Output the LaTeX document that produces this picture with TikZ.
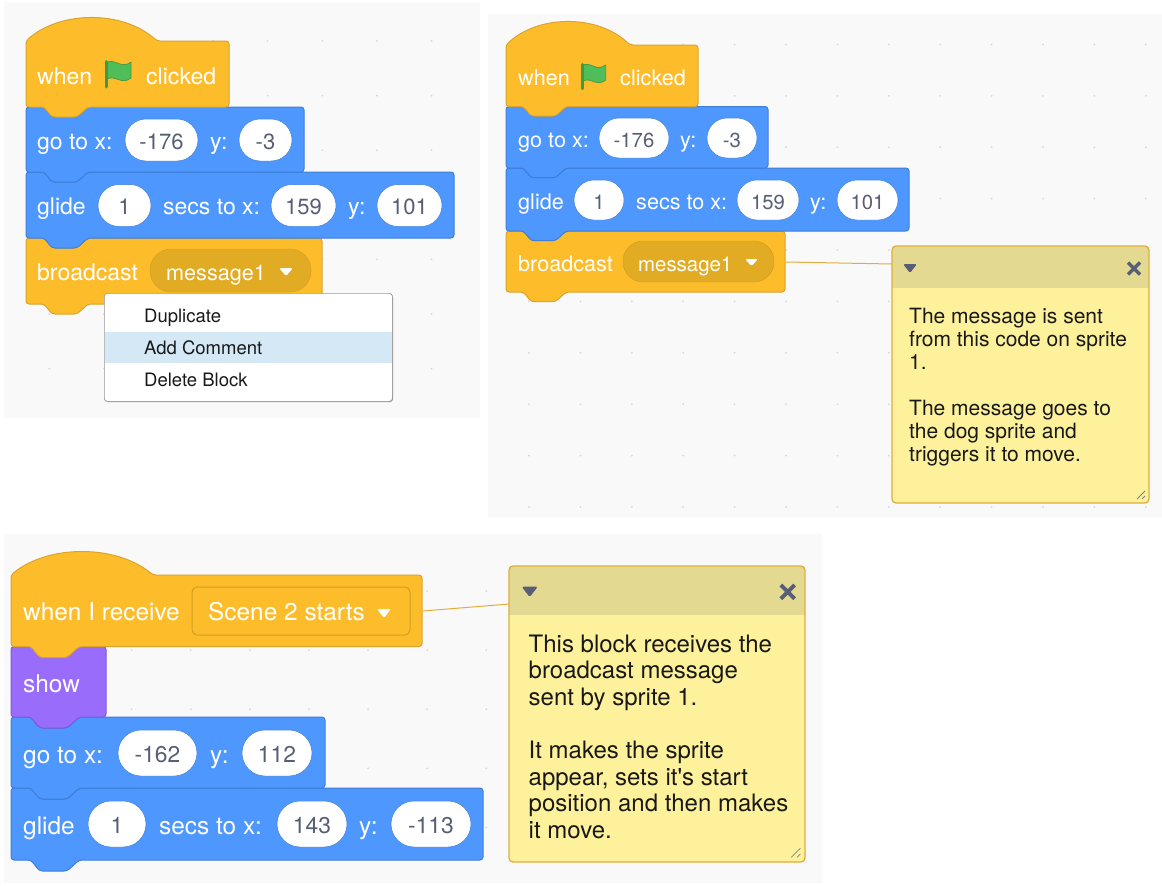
\documentclass[tikz,border=0pt]{standalone}
\usepackage{fontspec}
\setmainfont{TeX Gyre Heros}
\definecolor{panelbg}{HTML}{F9F9F9}
\definecolor{griddot}{HTML}{D8D8D8}
\definecolor{eventfill}{HTML}{FDBD2B}
\definecolor{eventedge}{HTML}{DBA32C}
\definecolor{motionfill}{HTML}{4D97FE}
\definecolor{motionedge}{HTML}{3F7FD6}
\definecolor{looksfill}{HTML}{9A6CFC}
\definecolor{looksedge}{HTML}{7F58D8}
\definecolor{dropfill}{HTML}{E2AB24}
\definecolor{dropedge}{HTML}{D19E20}
\definecolor{pilltext}{HTML}{575E75}
\definecolor{notefill}{HTML}{FEF19C}
\definecolor{notehead}{HTML}{E3D991}
\definecolor{noteedge}{HTML}{E0AE3E}
\definecolor{menuhi}{HTML}{D5E8F6}
\definecolor{flagfill}{HTML}{4FBE5A}
\definecolor{flagedge}{HTML}{45993D}
\tikzset{
  event/.style={fill=eventfill,draw=eventedge},
  motion/.style={fill=motionfill,draw=motionedge},
  looks/.style={fill=looksfill,draw=looksedge},
  blocktext/.style={text=white,anchor=base west,inner sep=0pt,yshift=-1pt},
  pill/.style={fill=white,draw=motionedge,line width=0.5pt,text=pilltext,inner sep=0pt,text height=18pt,text depth=0pt},
  note/.style={text=black!90,anchor=north west,inner sep=0pt,align=left},
  menuitem/.style={text=black!90,anchor=base west,inner sep=0pt,font=\fontsize{18.5}{20}\selectfont},
  link/.style={draw=noteedge,line width=1pt},
}
\newcommand\DrawBlock[5]{
  \draw[#5,line width=1pt,rounded corners=3pt] (#1,#2) -- ({#1+18*\NS},#2) -- ({#1+26*\NS},{#2+10*\NS}) -- ({#1+51*\NS},{#2+10*\NS}) -- ({#1+62*\NS},#2)
    -- (#3,#2) -- (#3,#4) -- ({#1+62*\NS},#4) -- ({#1+51*\NS},{#4+10*\NS}) -- ({#1+26*\NS},{#4+10*\NS}) -- ({#1+18*\NS},#4) -- (#1,#4) -- cycle;
}
\newcommand\DrawHat[5]{
  \draw[event,line width=1pt,rounded corners=3pt] (#1,#2) .. controls ({#1+0.26*(#3-#1)},{#2-30.7}) and ({#1+0.74*(#3-#1)},{#2-30.7}) .. (#3,#2)
    -- (#4,#2) -- (#4,#5) -- ({#1+62*\NS},#5) -- ({#1+51*\NS},{#5+10*\NS}) -- ({#1+26*\NS},{#5+10*\NS}) -- ({#1+18*\NS},#5) -- (#1,#5) -- cycle;
}
\newcommand\DrawPill[6]{
  \node[pill,font=\PF,rounded corners=(#4-#3)/2,minimum width=#2-#1,minimum height=#4-#3] (#5) at ({(#1+#2)/2},{(#3+#4)/2}) {#6};
}
\newcommand\DrawDrop[4]{
  \fill[white,rounded corners=1.5pt] (#1,#3) -- (#2,#3) -- ({(#1+#2)/2},#4) -- cycle;
}
\newcommand\DrawFlag[3]{
  \begin{scope}[shift={(#1,#2)},scale=#3]
    \draw[fill=flagfill,draw=flagedge,line width=0.7pt,line join=round] (1,3) .. controls (9,-3) and (16,10) .. (26,2) -- (26,18) .. controls (16,26) and (9,13) .. (1,20) -- cycle;
    \draw[flagedge,line width=3pt,line cap=round] (1.5,1.5) -- (1.5,27);
  \end{scope}
}
\newcommand\DrawComment[5]{
  \fill[notefill,rounded corners=4pt] (#1,#2) rectangle (#3,#4);
  \begin{scope}
    \clip[rounded corners=4pt] (#1,#2) rectangle (#3,#4);
    \fill[notehead] (#1,#2) rectangle (#3,#5);
  \end{scope}
  \draw[noteedge,line width=1.3pt,rounded corners=4pt] (#1,#2) rectangle (#3,#4);
  \fill[pilltext,rounded corners=1.5pt] ({#1+(18-7)*\CS},{#2+18*\CS}) -- ({#1+(18+7)*\CS},{#2+18*\CS}) -- ({#1+18*\CS},{#2+27*\CS}) -- cycle;
  \draw[pilltext,line width=3.4pt*\CS] ({#3-(15+6)*\CS},{#2+(22.5-6)*\CS}) -- ({#3-(15-6)*\CS},{#2+(22.5+6)*\CS})
    ({#3-(15+6)*\CS},{#2+(22.5+6)*\CS}) -- ({#3-(15-6)*\CS},{#2+(22.5-6)*\CS});
  \draw[gray,line width=0.8pt] ({#3-12*\CS},{#4-4*\CS}) -- ({#3-4*\CS},{#4-12*\CS}) ({#3-7*\CS},{#4-4*\CS}) -- ({#3-4*\CS},{#4-7*\CS});
}

\begin{document}
\begin{tikzpicture}[x=1pt,y=-1pt]
\useasboundingbox (0,0) rectangle (1162,886);
\fill[white] (0,0) rectangle (1162,886);
\fill[panelbg] (4,2) rectangle (480,418);
\fill[panelbg] (488,14) rectangle (1162,518);
\fill[panelbg] (4,534) rectangle (822,883);
\foreach \col in {0,...,7} \foreach \row in {0,...,6} \fill[griddot] ({49.3+54.6*\col},{41+54.6*\row}) circle (1pt);
\foreach \col in {0,...,12} \foreach \row in {0,...,9} \fill[griddot] ({529+51.4*\col},{44.4+51.4*\row}) circle (1pt);
\foreach \col in {0,...,13} \foreach \row in {0,...,4} \fill[griddot] ({13.5+59.1*\col},{591+59.1*\row}) circle (1pt);

% first stack
\def\NS{1}
\def\PF{\fontsize{22}{24}\selectfont}
\begin{scope}[font=\fontsize{23}{26}\selectfont]
  \DrawBlock{26}{238}{322}{304}{event}
  \DrawBlock{26}{172}{454}{238}{motion}
  \DrawBlock{26}{107}{304}{172}{motion}
  \DrawHat{26}{41}{157}{229}{107}
  \DrawFlag{105}{60}{1}
  \node[blocktext] (whenA) at (37,83) {when};
  \node[blocktext] (clickedA) at (146,83) {clicked};
  \node[blocktext] (gotoA) at (37,148) {go to x:};
  \DrawPill{125}{198}{119}{161}{xA}{-176}
  \node[blocktext] (yA) at (210,148) {y:};
  \DrawPill{239}{292}{119}{161}{yvalA}{-3}
  \node[blocktext] (glideA) at (37,213) {glide};
  \DrawPill{98}{151}{184.5}{226.5}{secsA}{1}
  \node[blocktext] (secstoA) at (163,213) {secs to x:};
  \DrawPill{271}{336}{184.5}{226.5}{xtoA}{159}
  \node[blocktext] (ytoA) at (348,213) {y:};
  \DrawPill{377}{442}{184.5}{226.5}{ytovalA}{101}
  \node[blocktext] (castA) at (37,279) {broadcast};
  \draw[fill=dropfill,draw=dropedge,rounded corners=21pt] (150,249) rectangle (311,292);
  \node[blocktext,font=\fontsize{21.6}{24}\selectfont] (messageA) at (166,279) {message1};
  \DrawDrop{279}{293}{268}{276}
\end{scope}
\fill[black!45,rounded corners=3pt] (105,294) rectangle (393,402);
\node[fill=white,draw=black!40,line width=0.7pt,rounded corners=3pt,minimum width=288,minimum height=108,anchor=north west,inner sep=0pt] (menuA) at (104,293) {};
\node[fill=menuhi,minimum width=287,minimum height=31,anchor=north west,inner sep=0pt] (menuhiA) at (104.5,331.5) {};
\node[menuitem] (dupA) at (144,322) {Duplicate};
\node[menuitem] (addA) at (144,354.5) {Add Comment};
\node[menuitem] (delA) at (144,386) {Delete Block};

% second stack
\def\NS{0.97}
\def\CS{1}
\def\PF{\fontsize{20.3}{23}\selectfont}
\begin{scope}[font=\fontsize{21.6}{24}\selectfont]
  \DrawBlock{506}{231}{785}{292}{event}
  \DrawBlock{506}{168}{909}{231}{motion}
  \DrawBlock{506}{106.5}{768}{168}{motion}
  \DrawHat{506}{45}{630}{698}{106.5}
  \DrawFlag{581}{63}{0.95}
  \node[blocktext] (whenB) at (518,84) {when};
  \node[blocktext] (clickedB) at (620,84) {clicked};
  \node[blocktext] (gotoB) at (518,146) {go to x:};
  \DrawPill{599}{669}{118}{158}{xB}{-176}
  \node[blocktext] (yB) at (680,146) {y:};
  \DrawPill{707}{757}{118}{158}{yvalB}{-3}
  \node[blocktext] (glideB) at (518,208) {glide};
  \DrawPill{574}{624}{180}{220}{secsB}{1}
  \node[blocktext] (secstoB) at (636,208) {secs to x:};
  \DrawPill{737}{799}{180}{220}{xtoB}{159}
  \node[blocktext] (ytoB) at (810,208) {y:};
  \DrawPill{837}{898}{180}{220}{ytovalB}{101}
  \node[blocktext] (castB) at (518,270) {broadcast};
  \draw[fill=dropfill,draw=dropedge,rounded corners=20pt] (623,241) rectangle (774,282);
  \node[blocktext,font=\fontsize{20.4}{23}\selectfont] (messageB) at (638,270) {message1};
  \DrawDrop{745}{758}{259}{266}
\end{scope}
\DrawComment{892}{246}{1149}{503}{288}
\coordinate (edgeB) at (786,262);
\coordinate (noteedgeB) at (892,264);
\draw[link] (edgeB) -- (noteedgeB);
\node[note,font=\fontsize{21}{23}\selectfont] (noteB) at (909,307.7) {The message is sent\\from this code on sprite\\1.\\[23pt]The message goes to\\the dog sprite and\\triggers it to move.};

% third stack
\def\NS{1.1}
\def\CS{1.15}
\def\PF{\fontsize{22.8}{25}\selectfont}
\begin{scope}[font=\fontsize{24.4}{27}\selectfont]
  \DrawBlock{11}{788}{483}{860}{motion}
  \DrawBlock{11}{717}{325}{788}{motion}
  \DrawBlock{11}{646.5}{106}{717}{looks}
  \DrawHat{11}{575}{153}{422}{646.5}
  \node[blocktext] (whenC) at (23,619.5) {when I receive};
  \draw[draw=dropedge,line width=1pt,rounded corners=5pt] (192,587) rectangle (410,635);
  \node[blocktext] (sceneC) at (208,619.5) {Scene 2 starts};
  \DrawDrop{377}{391}{609}{618}
  \node[blocktext] (showC) at (23,691) {show};
  \node[blocktext] (gotoC) at (23,762) {go to x:};
  \DrawPill{118}{197}{730}{776}{xC}{-162}
  \node[blocktext] (yC) at (210,762) {y:};
  \DrawPill{242}{312}{730}{776}{yvalC}{112}
  \node[blocktext] (glideC) at (23,833) {glide};
  \DrawPill{88}{146}{801}{847}{secsC}{1}
  \node[blocktext] (secstoC) at (159,833) {secs to x:};
  \DrawPill{277}{347}{801}{847}{xtoC}{143}
  \node[blocktext] (ytoC) at (359,833) {y:};
  \DrawPill{391}{471}{801}{847}{ytovalC}{-113}
\end{scope}
\DrawComment{509}{566}{805}{862}{615}
\coordinate (edgeC) at (423,611);
\coordinate (noteedgeC) at (509,604);
\draw[link] (edgeC) -- (noteedgeC);
\node[note,font=\fontsize{24}{26.6}\selectfont] (noteC) at (528.5,634.5) {This block receives the\\broadcast message\\sent by sprite 1.\\[26.6pt]It makes the sprite\\appear, sets it\textquotesingle s start\\position and then makes\\it move.};
\end{tikzpicture}
\end{document}
